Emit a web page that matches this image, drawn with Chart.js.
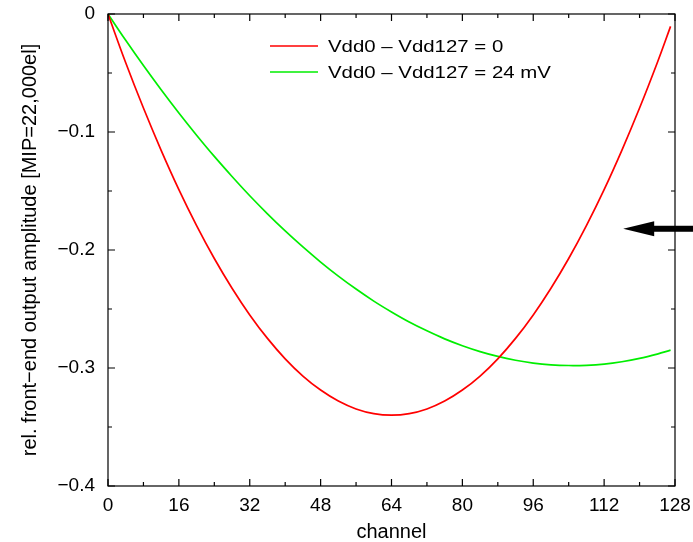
<!DOCTYPE html>
<html>
<head>
<meta charset="utf-8">
<script src="https://cdn.jsdelivr.net/npm/chart.js@4"></script>
<style>
  html, body { margin: 0; padding: 0; background: #fff; }
  #box { width: 693px; height: 542px; }
</style>
</head>
<body>
<div id="box"><canvas id="myChart"></canvas></div>
<script>
// values
const channels = [0, 4, 8, 12, 16, 20, 24, 28, 32, 36, 40, 44, 48, 52, 56, 60, 64,
  68, 72, 76, 80, 84, 88, 92, 96, 100, 104, 108, 112, 116, 120, 124, 127]
const vddEqual = [0, -0.0413, -0.0797, -0.1155, -0.1488, -0.1793, -0.2072, -0.2324, -0.2550, -0.2749, -0.2922, -0.3068, -0.3187, -0.3280, -0.3347, -0.3387, -0.3400,
  -0.3387, -0.3347, -0.3280, -0.3187, -0.3068, -0.2922, -0.2749, -0.2550, -0.2324, -0.2072, -0.1793, -0.1488, -0.1155, -0.0797, -0.0413, -0.0105]
const vdd24mV = [0, -0.0223, -0.0437, -0.0642, -0.0839, -0.1027, -0.1207, -0.1377, -0.1540, -0.1693, -0.1838, -0.1974, -0.2102, -0.2221, -0.2331, -0.2433, -0.2525,
  -0.2610, -0.2685, -0.2753, -0.2811, -0.2861, -0.2902, -0.2934, -0.2958, -0.2973, -0.2979, -0.2977, -0.2967, -0.2947, -0.2919, -0.2882, -0.2849]
const seriesLabels = ['Vdd0 \u2013 Vdd127 = 0', 'Vdd0 \u2013 Vdd127 = 24 mV']
const seriesColors = ['#ff0000', '#00ee00']
const xTickLabels = [0, 16, 32, 48, 64, 80, 96, 112, 128]
const yTickLabels = [0, -0.1, -0.2, -0.3, -0.4]
// arrow on the right side (channel, amplitude of its tip)
const arrowTip = { x: 116.3, y: -0.182 }

const FONT = "'Liberation Sans', Arial, sans-serif"

function points(ys) {
  return channels.map(function (c, i) { return { x: c, y: ys[i] } })
}

// frame, inward ticks, legend and arrow
const frameTicks = {
  id: 'frameTicks',
  afterDraw(chart) {
    const ctx = chart.ctx
    const a = chart.chartArea
    const xs = chart.scales.x
    const ys = chart.scales.y
    ctx.save()
    ctx.strokeStyle = '#000'
    ctx.lineWidth = 1.2
    ctx.strokeRect(a.left, a.top, a.right - a.left, a.bottom - a.top)
    ctx.beginPath()
    xs.ticks.forEach(function (t) {
      const px = xs.getPixelForValue(t.value)
      const len = xTickLabels.includes(t.value) ? 7 : 4
      ctx.moveTo(px, a.bottom); ctx.lineTo(px, a.bottom - len)
      ctx.moveTo(px, a.top); ctx.lineTo(px, a.top + len)
    })
    ys.ticks.forEach(function (t) {
      const py = ys.getPixelForValue(t.value)
      const major = yTickLabels.some(function (v) { return Math.abs(v - t.value) < 1e-6 })
      const len = major ? 7 : 4
      ctx.moveTo(a.left, py); ctx.lineTo(a.left + len, py)
      ctx.moveTo(a.right, py); ctx.lineTo(a.right - len, py)
    })
    ctx.stroke()

    // legend (text a bit stretched, like the original)
    ctx.textBaseline = 'middle'
    chart.data.datasets.forEach(function (ds, i) {
      const y = 46 + i * 26
      ctx.strokeStyle = ds.borderColor
      ctx.lineWidth = 1.5
      ctx.beginPath()
      ctx.moveTo(270, y); ctx.lineTo(318, y)
      ctx.stroke()
      ctx.save()
      ctx.translate(328, y + 1)
      ctx.scale(1.2, 1)
      ctx.font = '17px ' + FONT
      ctx.fillStyle = '#000'
      ctx.fillText(ds.label, 0, 0)
      ctx.restore()
    })

    // arrow
    const tx = xs.getPixelForValue(arrowTip.x)
    const ty = ys.getPixelForValue(arrowTip.y)
    ctx.fillStyle = '#000'
    ctx.beginPath()
    ctx.moveTo(tx, ty)
    ctx.lineTo(tx + 31, ty - 7.5)
    ctx.lineTo(tx + 31, ty + 7.5)
    ctx.closePath()
    ctx.fill()
    ctx.fillRect(tx + 28, ty - 3, chart.width - tx - 28, 6)
    ctx.restore()
  }
}

const config = {
  type: 'line',
  data: {
    datasets: [{
      label: seriesLabels[0],
      data: points(vddEqual),
      borderColor: seriesColors[0],
      borderWidth: 1.7,
      pointRadius: 0,
      tension: 0.4,
      fill: false
    }, {
      label: seriesLabels[1],
      data: points(vdd24mV),
      borderColor: seriesColors[1],
      borderWidth: 1.7,
      pointRadius: 0,
      tension: 0.4,
      fill: false
    }]
  },
  options: {
    responsive: true,
    maintainAspectRatio: false,
    animation: false,
    layout: { padding: { left: 0, top: 14, right: 18, bottom: 0 } },
    plugins: {
      legend: { display: false },
      tooltip: { enabled: false }
    },
    scales: {
      x: {
        type: 'linear',
        min: 0,
        max: 128,
        grid: { display: false, drawTicks: false },
        border: { display: false },
        ticks: {
          stepSize: 8,
          autoSkip: false,
          maxRotation: 0,
          padding: 8,
          color: '#000',
          font: { family: FONT, size: 19 },
          callback: function (v) { return xTickLabels.includes(v) ? String(v) : '' }
        },
        title: {
          display: true,
          text: 'channel',
          color: '#000',
          font: { family: FONT, size: 20 },
          padding: { top: 0, bottom: -2 }
        },
        afterFit: function (s) {
          s.height = 56
          s.paddingLeft = 0
          s.paddingRight = 0
        }
      },
      y: {
        min: -0.4,
        max: 0,
        grid: { display: false, drawTicks: false },
        border: { display: false },
        ticks: {
          stepSize: 0.05,
          autoSkip: false,
          padding: 13,
          color: '#000',
          font: { family: FONT, size: 19 },
          callback: function (v) {
            const hit = yTickLabels.find(function (t) { return Math.abs(t - v) < 1e-6 })
            if (hit === undefined) return ''
            return hit === 0 ? '0' : '\u2212' + Math.abs(hit).toFixed(1)
          }
        },
        title: {
          display: true,
          text: 'rel. front\u2212end output amplitude [MIP=22,000el]',
          color: '#000',
          font: { family: FONT, size: 20 },
          padding: { top: 18, bottom: 0 }
        },
        afterFit: function (s) {
          s.width = 108
          s.paddingTop = 0
          s.paddingBottom = 0
        }
      }
    }
  },
  plugins: [frameTicks]
}

const myChart = new Chart(document.getElementById('myChart'), config)
</script>
</body>
</html>
